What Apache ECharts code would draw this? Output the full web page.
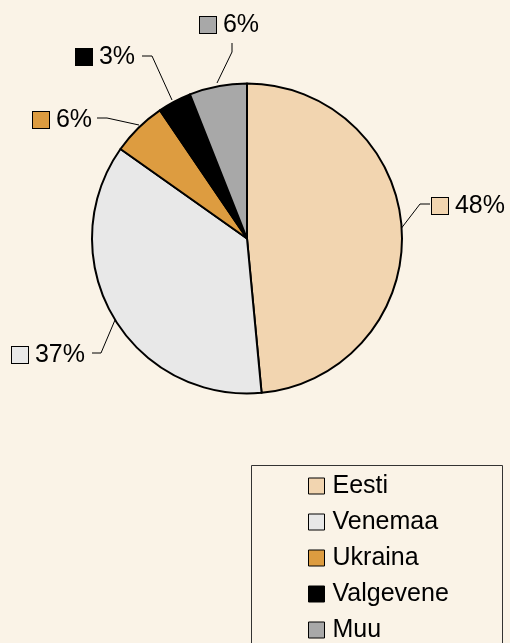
<!DOCTYPE html>
<html><head><meta charset="utf-8">
<script src="https://cdn.jsdelivr.net/npm/echarts@6/dist/echarts.min.js"></script>
<style>html,body{margin:0;padding:0;background:#FAF3E7}#c{width:510px;height:643px}</style>
</head><body><div id="c"></div>
<script>
const categories = ['Eesti', 'Venemaa', 'Ukraina', 'Valgevene', 'Muu'];
const values = [48.5, 36.3, 5.7, 3.5, 6.0];
const labels = ['48%', '37%', '6%', '3%', '6%'];
const colors = ['#F2D5B0', '#E8E8E8', '#DD9C40', '#000000', '#A8A8A8'];

// label placement (style only)
const labelPos = [
  {x: 432, y: 206, line: [[400, 230], [420, 204], [430, 204]]},
  {x: 12, y: 355, line: [[115, 320], [101, 353], [92, 353]]},
  {x: 33, y: 120, line: [[139, 125], [107, 118], [97, 118]]},
  {x: 76, y: 57, line: [[172, 100], [152, 56], [142, 56]]},
  {x: 200, y: 25, line: [[217, 83], [232, 52], [232, 43]]}
];

const rich = {t: {fontSize: 25, color: '#000', fontFamily: 'Liberation Sans'}};
colors.forEach((c, i) => {
  rich['sq' + i] = {width: 16, height: 16, backgroundColor: c, borderColor: '#000', borderWidth: 1};
});

const chart = echarts.init(document.getElementById('c'), null, {renderer: 'canvas'});
chart.setOption({
  backgroundColor: '#FAF3E7',
  animation: false,
  color: colors,
  textStyle: {fontFamily: 'Liberation Sans'},
  legend: {
    orient: 'vertical', left: 308, top: 473, height: 200, padding: 0,
    itemWidth: 16, itemHeight: 16, itemGap: 10,
    icon: 'rect',
    itemStyle: {borderColor: '#000', borderWidth: 1},
    textStyle: {fontSize: 25, color: '#000', fontFamily: 'Liberation Sans', lineHeight: 26, padding: [0, 0, 0, 3]},
    data: categories
  },
  graphic: [{
    type: 'rect', shape: {x: 251.5, y: 465.5, width: 251, height: 200},
    style: {fill: 'none', stroke: '#333', lineWidth: 1}, z: -1
  }],
  series: [{
    type: 'pie',
    center: [247, 238.5],
    radius: [0, 155],
    startAngle: 90,
    clockwise: true,
    itemStyle: {borderColor: '#000', borderWidth: 2},
    label: {
      show: true,
      overflow: 'none',
      formatter: p => '{sq' + p.dataIndex + '|}{t| ' + labels[p.dataIndex] + '}',
      rich: rich
    },
    labelLine: {show: true, lineStyle: {color: '#000', width: 1}},
    labelLayout: p => {
      const lp = labelPos[p.dataIndex];
      return {x: lp.x, y: lp.y, align: 'left', verticalAlign: 'middle', labelLinePoints: lp.line};
    },
    emphasis: {disabled: true},
    data: categories.map((n, i) => ({name: n, value: values[i]}))
  }]
});
</script></body></html>
